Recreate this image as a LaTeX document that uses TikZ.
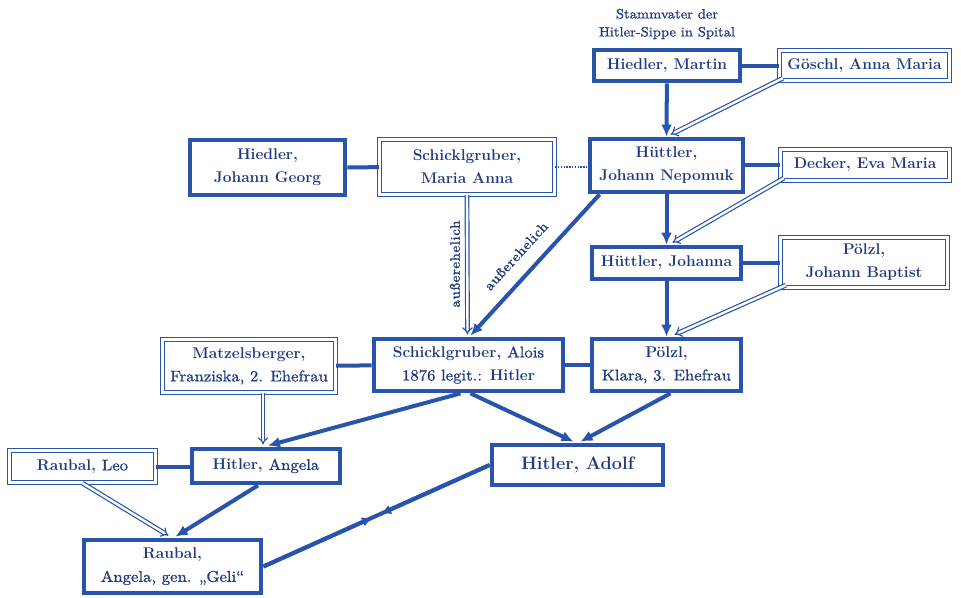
\documentclass[tikz,border=0pt]{standalone}
\usepackage{fontspec}
\newfontfamily\medf{lmroman10-regular.otf}[FakeBold=0.9, FakeStretch=1.08]
\newfontfamily\lblf{lmroman10-regular.otf}[FakeBold=1.6, FakeStretch=1.12, LetterSpace=4]
\usetikzlibrary{arrows.meta,calc}
\definecolor{ink}{RGB}{40,84,172}
\definecolor{txt}{RGB}{32,58,132}
\newcommand{\md}[1]{{\medf #1}}
\tikzset{
  base/.style={align=center, text=txt, font=\fontsize{15.5}{23}\selectfont\bfseries, inner sep=0pt, fill=white},
  thickbox/.style={base, draw=ink, line width=4.8pt},
  dblbox/.style={base, draw=ink, double=white, double distance=2.6pt, line width=1.3pt},
  thickline/.style={draw=ink, line width=4pt},
  arr/.style={thickline, -{Latex[length=12pt,width=11pt]}},
  dblline/.style={draw=ink, double=white, double distance=2.4pt, line width=1.2pt},
  dblarr/.style={dblline, -{Implies}},
  dotline/.style={draw=ink, line width=2.5pt, dash pattern=on 1.4pt off 1.4pt},
  lbl/.style={text=txt, font=\fontsize{13.5}{15}\lblf, inner sep=1pt},
  note/.style={text=txt, font=\fontsize{13.5}{18}\medf, align=center, inner sep=0pt}
}
\begin{document}
\begin{tikzpicture}[x=1pt,y=-1pt]
\useasboundingbox (0,0) rectangle (961,597);

% nodes
\node[note] (stamm) at (667,24) {Stammvater der\\Hitler-Sippe in Spital};
\node[thickbox, minimum width=146pt, minimum height=31pt] (martin) at (667,65.5) {Hiedler, Martin};
\node[dblbox, minimum width=170pt, minimum height=30pt] (goeschl) at (864.5,65.5) {Göschl, Anna Maria};
\node[thickbox, minimum width=153pt, minimum height=53pt] (nepomuk) at (666.5,165.5) {Hüttler,\\Johann Nepomuk};
\node[dblbox, minimum width=169pt, minimum height=31pt] (decker) at (865,165) {Decker, Eva Maria};
\node[thickbox, minimum width=155pt, minimum height=55pt] (georg) at (267.5,167.5) {Hiedler,\\Johann Georg};
\node[dblbox, minimum width=175pt, minimum height=55pt] (anna) at (467,167) {Schicklgruber,\\Maria Anna};
\node[thickbox, minimum width=149pt, minimum height=32pt] (johanna) at (666.5,263) {Hüttler, Johanna};
\node[dblbox, minimum width=167pt, minimum height=50pt] (baptist) at (864,262.5) {Pölzl,\\Johann Baptist};
\node[thickbox, minimum width=149pt, minimum height=52pt] (klara) at (666.5,365) {Pölzl,\\\md{Klara, 3. Ehefrau}};
\node[thickbox, minimum width=189pt, minimum height=52pt] (alois) at (468.5,365) {Schicklgruber, \md{Alois}\\\md{1876 legit.:} Hitler};
\node[dblbox, minimum width=173pt, minimum height=53pt] (matzel) at (249,366) {Matzelsberger,\\\md{Franziska, 2. Ehefrau}};
\node[thickbox, minimum width=148pt, minimum height=34pt] (angela) at (266,466) {Hitler, \md{Angela}};
\node[dblbox, minimum width=146pt, minimum height=32pt] (leo) at (82.5,466.5) {Raubal, \md{Leo}};
\node[thickbox, minimum width=171pt, minimum height=40pt] (adolf) at (577.5,465) {\fontsize{18}{20}\selectfont Hitler, Adolf};
\node[thickbox, minimum width=177pt, minimum height=53pt] (geli) at (172.5,566.5) {Raubal,\\\md{Angela, gen. „Geli“}};

% labels
\node[lbl, rotate=90] (lbla) at (455,264) {außerehelich};
\node[lbl, rotate=47.7] (lblb) at (516,256) {außerehelich};

% partner lines
\draw[thickline] (martin) -- (goeschl);
\draw[thickline] (nepomuk.east |- decker) -- (decker);
\draw[thickline] (georg) -- (anna);
\draw[dotline] (anna) -- (anna -| nepomuk.west);
\draw[thickline] (johanna) -- (johanna -| baptist.west);
\draw[thickline] (matzel) -- (alois);
\draw[thickline] (alois) -- (klara);
\draw[thickline] (leo) -- (leo -| angela.west);

% descent
\draw[arr] (martin) -- (nepomuk.north);
\draw[dblarr] ([xshift=4pt,yshift=3pt]goeschl.south west) -- ([xshift=4pt,yshift=2pt]nepomuk.north);
\draw[arr] (nepomuk) -- (johanna);
\draw[dblarr] ([xshift=4pt,yshift=3pt]decker.south west) -- ([xshift=6pt,yshift=2pt]johanna.north);
\draw[arr] (johanna) -- (klara);
\draw[dblarr] ([xshift=6pt,yshift=3pt]baptist.south west) -- ([xshift=8pt,yshift=2pt]klara.north);
\draw[dblarr] (anna.south) -- ([xshift=-1pt,yshift=2pt]alois.north);
\draw[arr] ([xshift=12pt]nepomuk.south west) -- ([xshift=2pt,yshift=1pt]alois.north);
\draw[dblarr] ([xshift=14pt]matzel.south) -- ([xshift=-3pt,yshift=2pt]angela.north);
\draw[arr] ([xshift=-8pt]alois.south) -- ([xshift=2pt,yshift=1pt]angela.north);
\draw[arr] ([xshift=2pt]alois.south) -- ([xshift=-4pt,yshift=1pt]adolf.north);
\draw[arr] ([xshift=4pt]klara.south) -- ([xshift=3pt,yshift=1pt]adolf.north);
\draw[dblarr] (leo.south) -- ([xshift=-4pt,yshift=2pt]geli.north);
\draw[arr] ([xshift=-8pt]angela.south) -- ([xshift=3pt,yshift=1pt]geli.north);

% Geli -- Adolf
\draw[thickline] (geli.east) -- (adolf.west);
\draw[thickline, -{Latex[length=10pt,width=10pt]}] (geli.east) -- ($(geli.east)!0.48!(adolf.west)$);
\draw[thickline, -{Latex[length=10pt,width=10pt]}] (adolf.west) -- ($(geli.east)!0.52!(adolf.west)$);
\end{tikzpicture}
\end{document}
